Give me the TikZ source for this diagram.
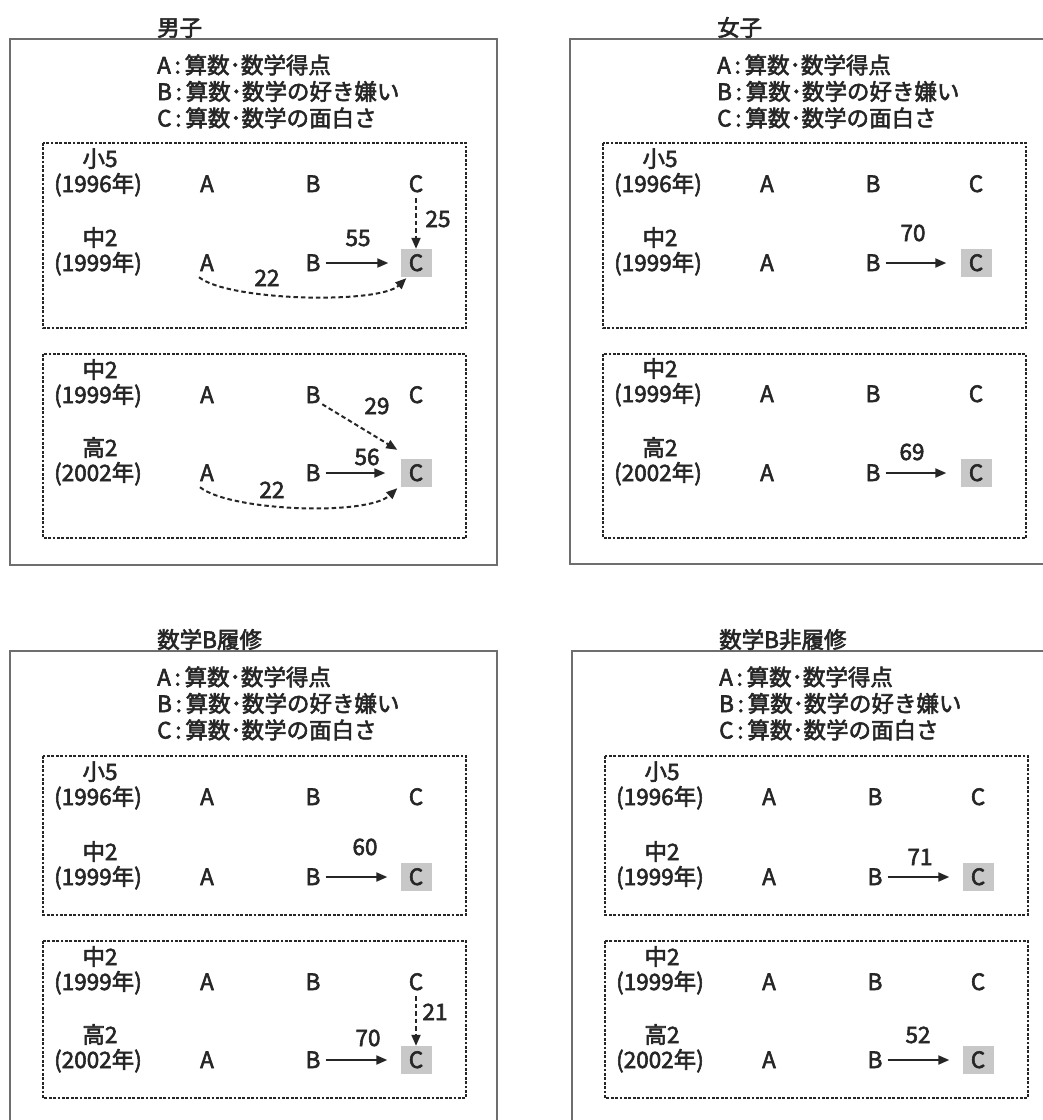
\documentclass[tikz,border=0pt]{standalone}
\usepackage{fontspec}
\setmainfont{Noto Sans CJK JP}[FakeBold=2.5]
\usetikzlibrary{arrows.meta}
\definecolor{ink}{HTML}{262626}
\definecolor{frame}{HTML}{6E6E6E}
\definecolor{cfill}{HTML}{C8C8C8}
\tikzset{
  lab/.style={inner sep=0pt, text height=16pt, text depth=0pt, text=ink, font=\fontsize{22.5}{27}\selectfont},
  cbox/.style={lab, fill=cfill, minimum width=31pt, minimum height=28pt},
  outerbox/.style={draw=frame, line width=2.6pt},
  innerbox/.style={draw=ink, line width=1.8pt, dash pattern=on 2.8pt off 1.6pt},
  solidarr/.style={draw=ink, line width=2pt, -{Triangle[length=11pt,width=9pt]}},
  dasharr/.style={solidarr, dash pattern=on 4.5pt off 3pt},
  elab/.style={lab},
}
\newcommand\panelframe[3]{%
  \draw[outerbox] (0,0) rectangle (487,#3);
  \node[lab, anchor=west] (#1title) at (147,-11) {#2};
  \node[lab, anchor=west] (#1legA) at (147,26.5) {A\,:\,算数･数学得点};
  \node[lab, anchor=west] (#1legB) at (147,53) {B\,:\,算数･数学の好き嫌い};
  \node[lab, anchor=west] (#1legC) at (147,79.5) {C\,:\,算数･数学の面白さ};
}
\newcommand\rowABC[5]{%
  \node[lab] (#1g) at (90,#2-25) {#3};
  \node[lab] (#1y) at (88,#2) {#4};
  \node[lab] (#1A) at (197,#2) {A};
  \node[lab] (#1B) at (303,#2) {B};
  \node[#5] (#1C) at (406,#2) {C};
}
\begin{document}
\begin{tikzpicture}[x=1pt,y=-1pt]
\useasboundingbox (0,0) rectangle (1043,1120);
\clip (0,0) rectangle (1043,1120);
\fill[white] (0,0) rectangle (1043,1120);

% ---------------- Panel 1: 男子
\begin{scope}[shift={(10,39)}]
  \panelframe{p1}{男子}{526}
  \draw[innerbox] (33,104) rectangle (456,289);
  \rowABC{p1a}{145}{小5}{(1996年)}{lab}
  \rowABC{p1b}{224}{中2}{(1999年)}{cbox}
  \draw[innerbox] (33,315) rectangle (456,499);
  \rowABC{p1c}{356}{中2}{(1999年)}{lab}
  \rowABC{p1d}{434}{高2}{(2002年)}{cbox}
  % box 1
  \draw[dasharr, shorten <=6pt] (p1aC) -- (p1bC);
  \node[elab] (p1l25) at (428,180) {25};
  \draw[solidarr, shorten <=5pt, shorten >=12pt] (p1bB) -- (p1bC);
  \node[elab] (p1l55) at (348,199) {55};
  \draw[dasharr] ([shift={(-8,6)}]p1bA.south) .. controls +(30,24) and +(-27,26) .. ([shift={(6,1)}]p1bC.south west);
  \node[elab] (p1l22a) at (257,239) {22};
  % box 2
  \draw[dasharr, shorten <=2pt] (p1cB.south east) -- ([shift={(-3,-9)}]p1dC.north west);
  \node[elab] (p1l29) at (367,367) {29};
  \draw[solidarr, shorten <=5pt, shorten >=15pt] (p1dB) -- (p1dC);
  \node[elab] (p1l56) at (357,418) {56};
  \draw[dasharr] ([shift={(-7,6)}]p1dA.south) .. controls +(30,24) and +(-30,28) .. ([shift={(-3,1)}]p1dC.south west);
  \node[elab] (p1l22b) at (262,451) {22};
\end{scope}

% ---------------- Panel 2: 女子
\begin{scope}[shift={(570,39)}]
  \panelframe{p2}{女子}{525}
  \draw[innerbox] (33,104) rectangle (456,289);
  \rowABC{p2a}{145}{小5}{(1996年)}{lab}
  \rowABC{p2b}{224}{中2}{(1999年)}{cbox}
  \draw[innerbox] (33,315) rectangle (456,499);
  \rowABC{p2c}{355}{中2}{(1999年)}{lab}
  \rowABC{p2d}{434}{高2}{(2002年)}{cbox}
  \draw[solidarr, shorten <=5pt, shorten >=14pt] (p2bB) -- (p2bC);
  \node[elab] (p2l70) at (343,194) {70};
  \draw[solidarr, shorten <=5pt, shorten >=14pt] (p2dB) -- (p2dC);
  \node[elab] (p2l69) at (342,413) {69};
\end{scope}

% ---------------- Panel 3: 数学B履修
\begin{scope}[shift={(10,651)}]
  \panelframe{p3}{数学B履修}{480}
  \draw[innerbox] (33,105) rectangle (456,264);
  \rowABC{p3a}{146}{小5}{(1996年)}{lab}
  \rowABC{p3b}{226}{中2}{(1999年)}{cbox}
  \draw[innerbox] (33,290) rectangle (456,447);
  \rowABC{p3c}{331}{中2}{(1999年)}{lab}
  \rowABC{p3d}{409}{高2}{(2002年)}{cbox}
  \draw[solidarr, shorten <=5pt, shorten >=13pt] (p3bB) -- (p3bC);
  \node[elab] (p3l60) at (355,196) {60};
  \draw[dasharr, shorten <=6pt] (p3cC) -- (p3dC);
  \node[elab] (p3l21) at (425,361) {21};
  \draw[solidarr, shorten <=5pt, shorten >=13pt] (p3dB) -- (p3dC);
  \node[elab] (p3l70) at (358,387) {70};
\end{scope}

% ---------------- Panel 4: 数学B非履修
\begin{scope}[shift={(572,651)}]
  \panelframe{p4}{数学B非履修}{480}
  \draw[innerbox] (33,105) rectangle (456,264);
  \rowABC{p4a}{146}{小5}{(1996年)}{lab}
  \rowABC{p4b}{226}{中2}{(1999年)}{cbox}
  \draw[innerbox] (33,290) rectangle (456,447);
  \rowABC{p4c}{331}{中2}{(1999年)}{lab}
  \rowABC{p4d}{409}{高2}{(2002年)}{cbox}
  \draw[solidarr, shorten <=5pt, shorten >=13pt] (p4bB) -- (p4bC);
  \node[elab] (p4l71) at (348,206) {71};
  \draw[solidarr, shorten <=5pt, shorten >=13pt] (p4dB) -- (p4dC);
  \node[elab] (p4l52) at (346,384) {52};
\end{scope}
\end{tikzpicture}
\end{document}
